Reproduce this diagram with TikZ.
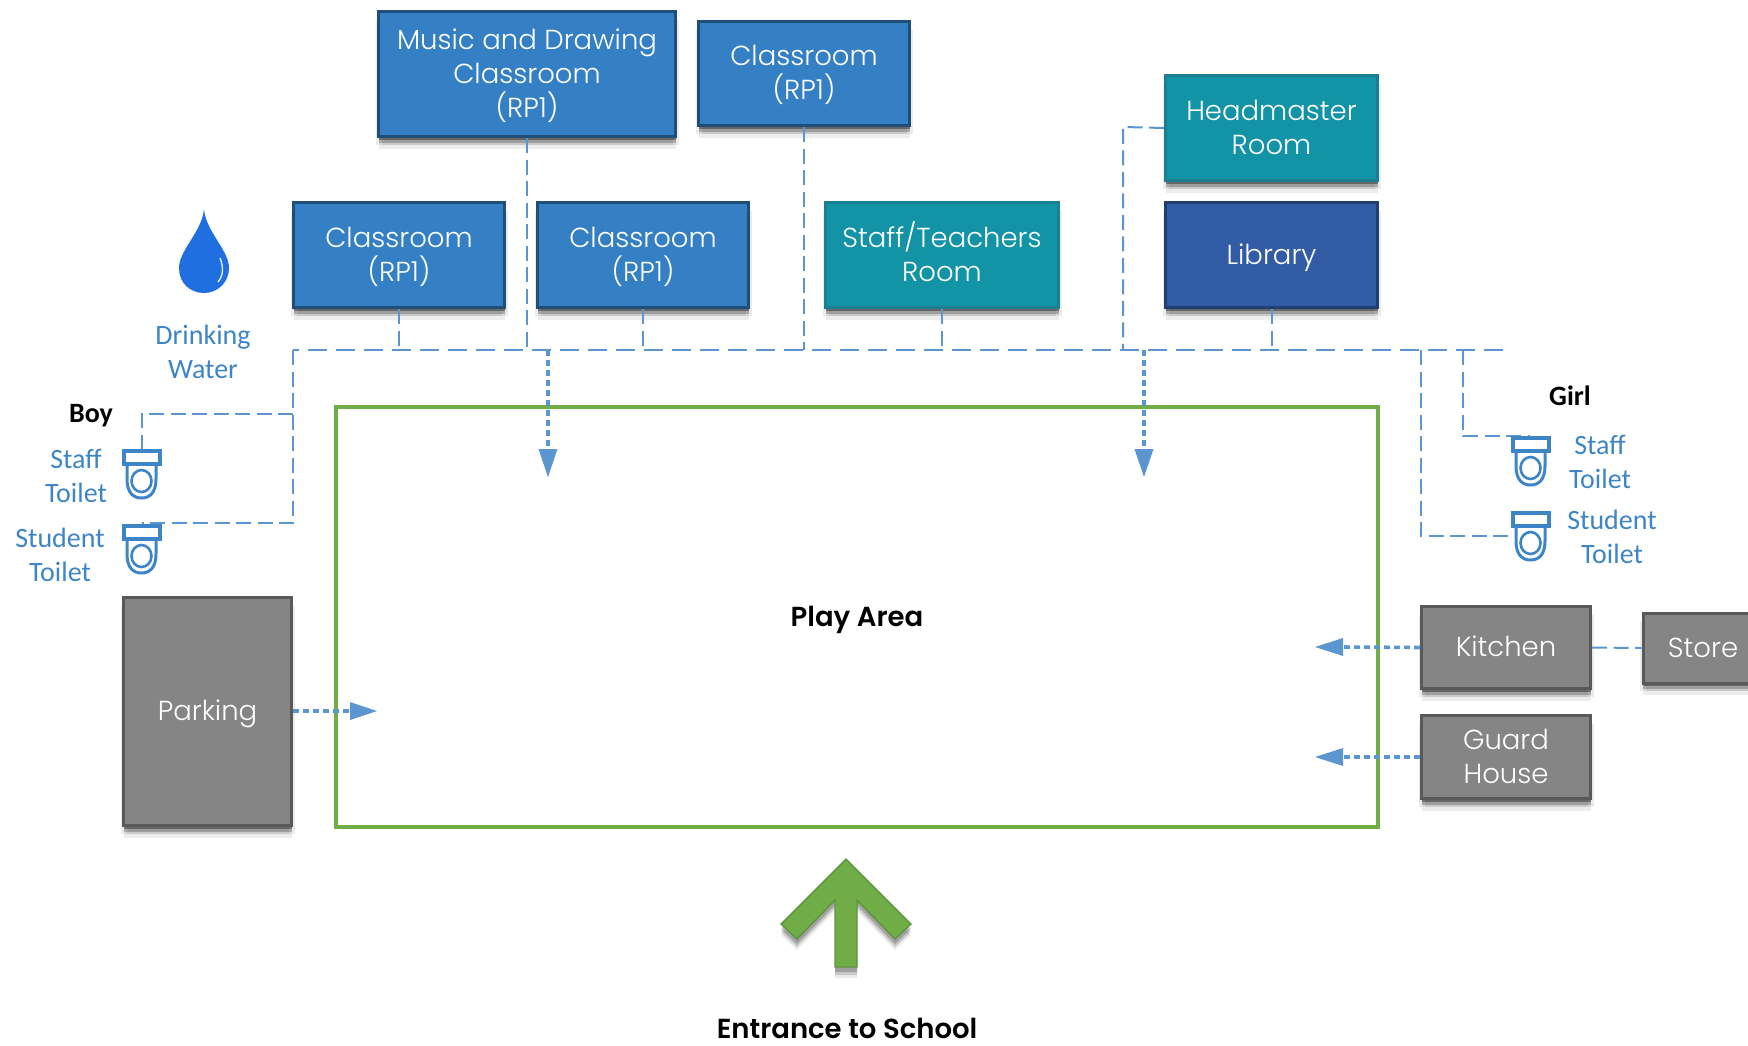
\documentclass[tikz,border=0pt]{standalone}
\usepackage{fontspec}
\setmainfont{Carlito}
\newfontfamily\gothic[UprightFont={* Light},BoldFont={* SemiBold}]{Poppins}
\usetikzlibrary{shadows}
\definecolor{blueb}{HTML}{3580C5}
\definecolor{bluebe}{HTML}{1F4E79}
\definecolor{tealb}{HTML}{1393A6}
\definecolor{tealbe}{HTML}{1A8090}
\definecolor{navy}{HTML}{335CA6}
\definecolor{navye}{HTML}{203F70}
\definecolor{greyb}{HTML}{858585}
\definecolor{greybe}{HTML}{595959}
\definecolor{line}{HTML}{5B96D0}
\definecolor{lab}{HTML}{3D85C6}
\definecolor{grn}{HTML}{70AD47}
\definecolor{dropc}{HTML}{1F6FE0}
\newcommand{\lh}{\rule[-7.7pt]{0pt}{34pt}}
\tikzset{
  softshadow/.style={
    general shadow={shadow yshift=-12pt,shadow xshift=0pt,fill=black,opacity=.07},
    general shadow={shadow yshift=-8pt,shadow xshift=-3pt,fill=black,opacity=.08},
    general shadow={shadow yshift=-8pt,shadow xshift=3pt,fill=black,opacity=.08},
    general shadow={shadow yshift=-6pt,shadow xshift=0pt,fill=black,opacity=.22},
    general shadow={shadow yshift=-3pt,shadow xshift=0pt,fill=black,opacity=.35}},
  room/.style={draw=#1e,line width=3pt,fill=#1,softshadow,text=white,align=center,
    font=\gothic\fontsize{27.5}{34}\selectfont,inner sep=0pt},
  dashline/.style={draw=line,line width=2pt,dash pattern=on 15pt off 6.5pt},
  busline/.style={draw=line,line width=2.2pt,dash pattern=on 19pt off 9pt},
  dotarrow/.style={draw=line,line width=3.6pt,dash pattern=on 6pt off 4pt},
  headfill/.style={fill=line,draw=none},
  lbl/.style={text=lab,align=center,font=\fontsize{28}{34}\selectfont,inner sep=0pt},
  heading/.style={text=black,font=\bfseries\fontsize{28}{30}\selectfont,inner sep=0pt},
  gheading/.style={text=black,font=\gothic\bfseries\fontsize{27.5}{30}\selectfont,inner sep=0pt},
  toilet/.pic={
    \draw[lab,line width=3pt,fill=white] (-14.5,16) -- (-14.5,30) .. controls (-14.5,44) and (-8,49) .. (0,49) .. controls (8,49) and (14.5,44) .. (14.5,30) -- (14.5,16);
    \draw[lab,line width=2.6pt] (0,32) ellipse [x radius=10,y radius=11];
    \draw[lab,line width=4pt,fill=white] (-18,2) rectangle (18,15);
  },
}
\begin{document}
\begin{tikzpicture}[x=1pt,y=-1pt]
\useasboundingbox (0,0) rectangle (1748,1045);
% rooms
\newcommand{\room}[7]{\node[room=#2,minimum width=#5-#3-3,minimum height=#6-#4-3] (#1) at ({(#3+#5)/2},{(#4+#6)/2}) {#7};}
\room{music}{blueb}{377}{10}{677}{138}{Music and Drawing\lh\\Classroom\lh\\(RP1)\lh}
\room{clsT}{blueb}{697}{20}{911}{127}{Classroom\lh\\(RP1)\lh}
\room{clsL}{blueb}{292}{201}{506}{309}{Classroom\lh\\(RP1)\lh}
\room{clsR}{blueb}{536}{201}{750}{309}{Classroom\lh\\(RP1)\lh}
\room{staff}{tealb}{824}{201}{1060}{309}{Staff/Teachers\lh\\Room\lh}
\room{head}{tealb}{1164}{74}{1379}{182}{Headmaster\lh\\Room\lh}
\room{lib}{navy}{1164}{201}{1379}{309}{Library\lh}
\room{park}{greyb}{122}{596}{293}{827}{Parking\lh}
\room{kitch}{greyb}{1420}{605}{1592}{690}{Kitchen\lh}
\room{guard}{greyb}{1420}{714}{1592}{800}{Guard\lh\\House\lh}
\node[room=greyb,minimum width=120,minimum height=70] (store) at (1703,648) {Store\lh};
% play area
\node[draw=grn,line width=3.6pt,minimum width=1042,minimum height=420,inner sep=0pt] (play) at (857,617) {};
\node[gheading] (playt) at (857,620) {Play Area};
% bus coordinates
\coordinate (busL) at (293,350);
\coordinate (busR) at (1503,350);
\coordinate (dnA) at (548,477);
\coordinate (dnB) at (1144,477);
\coordinate (parkE) at (377,711);
\coordinate (kitE) at (1315,647);
\coordinate (guaE) at (1315,757);
\coordinate (boyA) at (141.5,449);
\coordinate (boyB) at (141.5,523);
\coordinate (girlA) at (1530,436);
\coordinate (girlB) at (1516,536);
% bus
\draw[busline] (busR) -- (busL);
\draw[dashline] (busL) -- (293,523) -- (boyB);
\draw[dashline] (293,414) -- (141.5,414) -- (boyA);
\draw[dashline] (music.south) -- (music.south |- busL);
\draw[dashline] (clsT.south) -- (clsT.south |- busL);
\draw[dashline] (clsL.south) -- (clsL.south |- busL);
\draw[dashline] (clsR.south) -- (clsR.south |- busL);
\draw[dashline] (staff.south) -- (staff.south |- busL);
\draw[dashline] (lib.south) -- (lib.south |- busL);
\draw[dashline] (head.west) -- (1123,127) -- (1123,350);
\draw[dashline] (1463,350) -- (1463,436) -- (girlA);
\draw[dashline] (1421,350) -- (1421,536) -- (girlB);
\draw[dashline] (kitch.east) -- (store.west);
% dotted arrows
\draw[dotarrow] (548,350) -- (548,452);
\fill[headfill] (dnA) -- (538.5,449) -- (557.5,449) -- cycle;
\draw[dotarrow] (1144,350) -- (1144,452);
\fill[headfill] (dnB) -- (1134.5,449) -- (1153.5,449) -- cycle;
\draw[dotarrow] (park.east |- parkE) -- (352,711);
\fill[headfill] (parkE) -- (350,702) -- (350,720) -- cycle;
\draw[dotarrow] (kitch.west) -- (1341,647);
\fill[headfill] (kitE) -- (1343,638) -- (1343,656) -- cycle;
\draw[dotarrow] (guard.west |- guaE) -- (1341,757);
\fill[headfill] (guaE) -- (1343,748) -- (1343,766) -- cycle;
% toilets
\pic at (boyA) {toilet};
\pic at (141.5,524) {toilet};
\pic at (1530.5,436) {toilet};
\pic at (1530.5,511) {toilet};
% labels
\node[lbl] (water) at (203,352) {Drinking\\Water};
\node[heading] (boy) at (91,416) {Boy};
\node[heading] (girl) at (1570,396) {Girl};
\node[lbl] (l1) at (76,476) {Staff\\Toilet};
\node[lbl] (l2) at (60,555) {Student\\Toilet};
\node[lbl] (l3) at (1600,462) {Staff\\Toilet};
\node[lbl] (l4) at (1612,537) {Student\\Toilet};
% drop
\fill[dropc] (204,209) .. controls (206,232) and (229,250) .. (229,268) .. controls (229,283) and (217,293) .. (204,293) .. controls (190,293) and (179,283) .. (179,268) .. controls (179,250) and (202,232) .. (204,209) -- cycle;
\draw[white!85!dropc,line width=1.4pt] (220,258) .. controls (224,268) and (223,276) .. (218,282);
% entrance
\draw[fill=grn,draw=grn!85!black,line width=1.4pt,
  general shadow={shadow yshift=-11pt,fill=black,opacity=.08},
  general shadow={shadow yshift=-8pt,fill=black,opacity=.15},
  general shadow={shadow yshift=-5pt,fill=black,opacity=.2}]
  (846,859) -- (911,924) -- (895,939) -- (857,900) -- (857,967) -- (835,967) -- (835,900) -- (797,939) -- (781,924) -- cycle;
\node[gheading] (ent) at (847,1028) {Entrance to School};
\end{tikzpicture}
\end{document}
